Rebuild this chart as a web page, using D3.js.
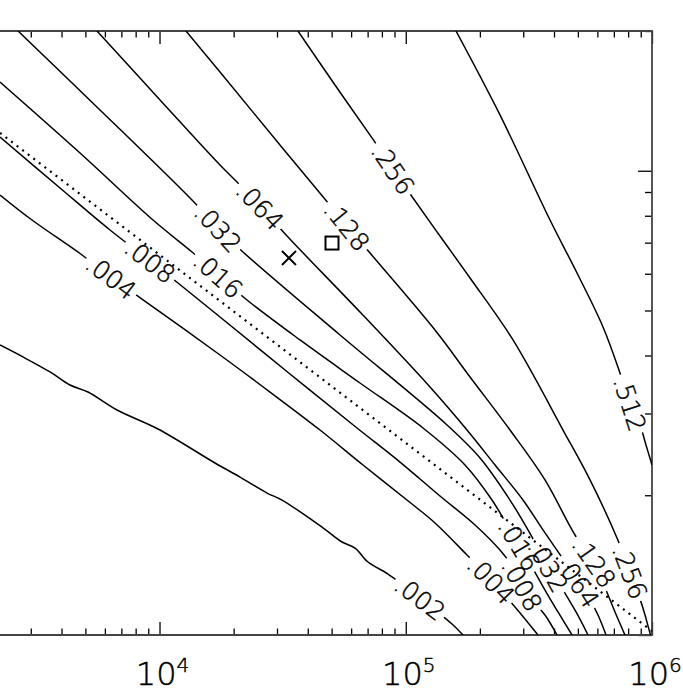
<!DOCTYPE html>
<html>
<head>
<meta charset="utf-8">
<script src="https://cdn.jsdelivr.net/npm/d3@7"></script>
<style>
  body { margin: 0; background: #fff; }
  text { font-family: "DejaVu Sans", sans-serif; font-weight: 200; fill: #000; stroke: #000; stroke-width: 0.45; }
</style>
</head>
<body>
<div id="chartholder"></div>
<script>
// contour levels, one traced line per level (x, y)
var levels = [0.002, 0.004, 0.008, 0.016, 0.032, 0.064, 0.128, 0.256, 0.512];

var line002 = [[2250,4.214],[2789,3.971],[3592,3.686],[4330,3.455],[5123,3.337],[6721,3.052],
  [9858,2.778],[16801,2.347],[21223,2.189],[27330,2.022],[31430,1.953],[45680,1.708],
  [55100,1.586],[62230,1.539],[70260,1.436],[84730,1.353],[114250,1.201],[154100,1.056],[170800,1.0]];
var line004 = [[2250,8.868],[3035,7.832],[4845,6.585],[6353,5.903],[8490,5.293],[17605,4.010],
  [28100,3.337],[44840,2.764],[67050,2.324],[106000,1.915],[131460,1.743],[177300,1.487],
  [221900,1.314],[277700,1.149],[344300,1.0]];
var line008 = [[2250,11.82],[3944,9.181],[6294,7.454],[9150,6.393],[11887,5.730],[17605,4.842],
  [33870,3.650],[63390,2.792],[94760,2.358],[137700,1.993],[191100,1.726],[241300,1.524],
  [277700,1.380],[319600,1.207],[367600,1.104],[411400,1.0]];
var line016 = [[2250,15.53],[4755,10.92],[9409,7.832],[13548,6.683],[17280,5.962],[22660,5.267],
  [37200,4.320],[65190,3.490],[117490,2.792],[174000,2.324],[224000,1.953],
  [265000,1.684],[288300,1.563],[313600,1.451],[367600,1.250],[415200,1.121],[473300,1.0]];
var line032 = [[2663,20.0],[5732,13.52],[13548,8.650],[17280,7.528],[21827,6.683],[54070,4.428],
  [147070,2.834],[200300,2.406],[265000,1.953],[313600,1.684],[378100,1.408],[435100,1.250],
  [491400,1.121],[549700,1.0]];
var line064 = [[5573,20.0],[10046,14.21],[17605,10.29],[20831,9.410],[25590,8.396],[33240,7.199],
  [65190,4.963],[125460,3.421],[177300,2.764],[230400,2.324],[299300,1.953],[360800,1.684],
  [443400,1.436],[500600,1.301],[560100,1.190],[603600,1.104],[650400,1.0]];
var line128 = [[12807,20.0],[17605,16.32],[30850,11.36],[46560,8.737],[57710,7.603],[71580,6.650],
  [131460,4.539],[182400,3.596],[265000,2.764],[367600,2.158],[486800,1.642],[581400,1.436],
  [650400,1.250],[707500,1.121],[776800,1.0]];
var line256 = [[36500,20.0],[51600,15.30],[72930,11.77],[88770,10.09],[106990,8.737],[137700,7.234],
  [182400,5.875],[272600,4.320],[435100,2.764],[560100,2.158],[720800,1.618],[813900,1.367],
  [910700,1.160],[981300,1.010],[1000000,0.9755]];
var line512 = [[159960,20.0],[241300,13.19],[385300,7.832],[496000,6.022],[632400,4.608],
  [741300,3.668],[813900,3.145],[893800,2.834],[945400,2.566],[1000000,2.324]];

var contourLines = [line002, line004, line008, line016, line032, line064, line128, line256, line512];

// dotted reference line
var dottedLine = [[2250,12.06],[1000000,1.020]];

// label spots: level, x, y
var labelSpots = [
  [0.002,114250,1.201],
  [0.004,6353,5.903],[0.004,221900,1.314],
  [0.008,9150,6.393],[0.008,296500,1.281],
  [0.016,17280,5.962],[0.016,288300,1.563],
  [0.032,17280,7.528],[0.032,378100,1.408],
  [0.064,25590,8.396],[0.064,500600,1.301],
  [0.128,57710,7.603],[0.128,581400,1.436],
  [0.256,88770,10.09],[0.256,813900,1.367],
  [0.512,813900,3.145]
];

// the two markers
var crossMark = [33550, 6.488];
var squareMark = [50170, 6.987];

// axes
var xDomain = [2250, 1e6];
var yDomain = [1, 20];
var xMajor = [1e4, 1e5, 1e6];
var xMinor = [3e3,4e3,5e3,6e3,7e3,8e3,9e3, 2e4,3e4,4e4,5e4,6e4,7e4,8e4,9e4,
              2e5,3e5,4e5,5e5,6e5,7e5,8e5,9e5];
var yMajor = [1, 10];
var yMinor = [2,3,4,5,6,7,8,9,20];
var xTickLabels = [["10","4"],["10","5"],["10","6"]];

(function() {
var W = 683, H = 695;
var pLeft = 0, pRight = 652, pTop = 31, pBottom = 635;

var svg = d3.select("#chartholder").append("svg")
  .attr("width", W).attr("height", H);

var x = d3.scaleLog().domain(xDomain).range([pLeft, pRight]);
var y = d3.scaleLog().domain(yDomain).range([pBottom, pTop]);

var defs = svg.append("defs");
defs.append("clipPath").attr("id", "plotclip")
  .append("rect").attr("x", pLeft).attr("y", pTop)
  .attr("width", pRight - pLeft).attr("height", pBottom - pTop);

// ticks pointing inward
function tickAxis(axis, tr, vals, size) {
  var g = svg.append("g").attr("transform", tr)
    .call(axis.tickValues(vals).tickSize(-size).tickFormat(""));
  g.select(".domain").remove();
  g.selectAll(".tick line").attr("stroke", "#000").attr("stroke-width", 1.3);
}
tickAxis(d3.axisBottom(x), "translate(0," + pBottom + ")", xMinor, 6.5);
tickAxis(d3.axisBottom(x), "translate(0," + pBottom + ")", xMajor, 13);
tickAxis(d3.axisTop(x), "translate(0," + pTop + ")", xMinor, 6.5);
tickAxis(d3.axisTop(x), "translate(0," + pTop + ")", xMajor, 13);
tickAxis(d3.axisRight(y), "translate(" + pRight + ",0)", yMinor, 7);
tickAxis(d3.axisRight(y), "translate(" + pRight + ",0)", yMajor, 14);

// frame (left side falls outside the picture)
svg.append("path")
  .attr("d", "M" + pLeft + "," + pTop + "H" + pRight + "V" + pBottom + "H" + pLeft)
  .attr("fill", "none").attr("stroke", "#444").attr("stroke-width", 1.8);

// bottom tick labels
var tl = svg.append("g").selectAll("text")
  .data(xMajor).enter().append("text")
  .attr("x", function(d) { return x(d) + 3; })
  .attr("y", 685)
  .attr("text-anchor", "middle")
  .attr("font-size", 32);
tl.append("tspan").text(function(d, i) { return xTickLabels[i][0]; });
tl.append("tspan").attr("font-size", 20).attr("dy", -13)
  .text(function(d, i) { return xTickLabels[i][1]; });

var line = d3.line()
  .curve(d3.curveCatmullRom.alpha(0.5))
  .x(function(d) { return x(d[0]); })
  .y(function(d) { return y(d[1]); });

var fmt = function(v) { return d3.format(".3f")(v).replace(/^0/, ""); };

// labels first, so the gaps can be sized from them
var plot = svg.append("g").attr("clip-path", "url(#plotclip)");
var labelG = svg.append("g");
var gaps = levels.map(function() { return []; });

labelSpots.forEach(function(s) {
  var li = levels.indexOf(s[0]);
  var pts = contourLines[li].map(function(d) { return [x(d[0]), y(d[1])]; });
  var cx = x(s[1]), cy = y(s[2]);
  // direction of the nearest segment
  var best = 1e9, ang = 0;
  for (var k = 0; k < pts.length - 1; k++) {
    var ax = pts[k][0], ay = pts[k][1], bx = pts[k+1][0], by = pts[k+1][1];
    var dx = bx - ax, dy = by - ay, L = dx*dx + dy*dy;
    var t = Math.max(0, Math.min(1, ((cx-ax)*dx + (cy-ay)*dy) / L));
    var px = ax + t*dx - cx, py = ay + t*dy - cy, dd = px*px + py*py;
    if (dd < best) { best = dd; ang = Math.atan2(dy, dx) * 180 / Math.PI; }
  }
  var txt = labelG.append("text")
    .attr("transform", "translate(" + cx + "," + cy + ") rotate(" + ang + ")")
    .attr("text-anchor", "middle")
    .attr("dy", "0.36em")
    .attr("font-size", 25)
    .text(fmt(s[0]));
  var w = txt.node().getComputedTextLength();
  gaps[li].push({cx: cx, cy: cy, ang: ang, w: w + 6});
});

// contour lines with gaps under their own labels
contourLines.forEach(function(pts, i) {
  var m = defs.append("mask").attr("id", "gap" + i)
    .attr("maskUnits", "userSpaceOnUse")
    .attr("x", 0).attr("y", 0).attr("width", W).attr("height", H);
  m.append("rect").attr("width", W).attr("height", H).attr("fill", "#fff");
  gaps[i].forEach(function(g) {
    m.append("rect")
      .attr("x", -g.w / 2).attr("y", -10).attr("width", g.w).attr("height", 20)
      .attr("transform", "translate(" + g.cx + "," + g.cy + ") rotate(" + g.ang + ")")
      .attr("fill", "#000");
  });
  plot.append("g").attr("mask", "url(#gap" + i + ")")
    .append("path")
    .datum(pts)
    .attr("d", line)
    .attr("fill", "none")
    .attr("stroke", "#000")
    .attr("stroke-width", 1.5);
});

plot.append("path")
  .datum(dottedLine)
  .attr("d", line)
  .attr("fill", "none")
  .attr("stroke", "#000")
  .attr("stroke-width", 2.2)
  .attr("stroke-dasharray", "2,5");

// markers
var cxm = x(crossMark[0]), cym = y(crossMark[1]);
svg.append("path")
  .attr("d", "M" + (cxm-7) + "," + (cym-7) + "L" + (cxm+7) + "," + (cym+7) +
             "M" + (cxm-7) + "," + (cym+7) + "L" + (cxm+7) + "," + (cym-7))
  .attr("stroke", "#000").attr("stroke-width", 2);
svg.append("rect")
  .attr("x", x(squareMark[0]) - 6.5).attr("y", y(squareMark[1]) - 6.5)
  .attr("width", 13).attr("height", 13)
  .attr("fill", "none").attr("stroke", "#000").attr("stroke-width", 2);
})();
</script>
</body>
</html>
